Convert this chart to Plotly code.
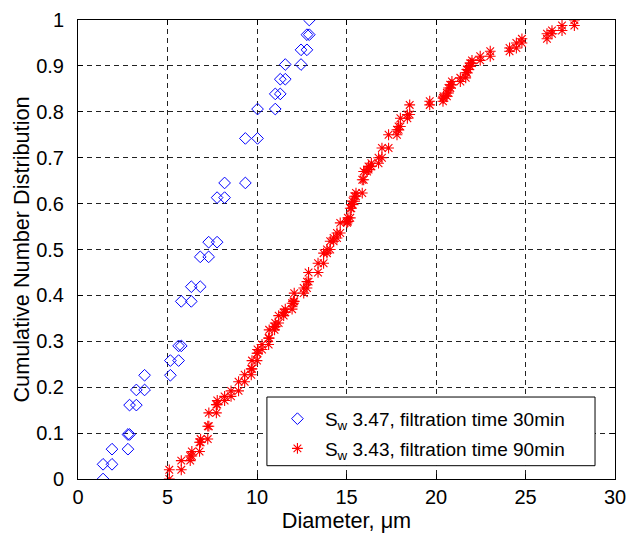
import plotly.graph_objects as go

# Sorted particle diameters (um) and the cumulative number fraction before/after each one
blue_diam = [1.40, 1.90, 2.79, 2.88, 3.26, 3.72, 5.16, 5.62, 5.77, 6.33, 6.83,
             7.30, 7.77, 8.19, 9.35, 10.03, 11.02, 11.30, 11.58, 12.46, 12.79, 12.92]
blue_cum = [0.0, 0.032, 0.065, 0.097, 0.161, 0.194, 0.226, 0.258, 0.290, 0.387, 0.419,
            0.484, 0.516, 0.613, 0.645, 0.742, 0.806, 0.839, 0.871, 0.903, 0.935, 0.968, 1.0]

red_diam = [5.10, 5.77, 6.27, 6.36, 6.79, 6.85, 7.25, 7.31, 7.73, 7.78,
            8.19, 8.55, 8.97, 9.31, 9.68, 9.72, 10.00, 10.03, 10.28, 10.65,
            10.68, 10.98, 11.02, 11.21, 11.49, 11.58, 11.96, 12.04, 12.08, 12.61,
            12.79, 12.88, 13.41, 13.72, 13.91, 14.09, 14.28, 14.47, 14.65, 15.03,
            15.08, 15.21, 15.27, 15.34, 15.45, 15.53, 15.88, 15.96, 16.15, 16.23,
            16.39, 16.79, 16.98, 17.35, 17.82, 17.91, 18.01, 18.40, 18.53, 19.65,
            20.39, 20.42, 20.61, 20.70, 20.80, 20.89, 21.36, 21.66, 21.73, 21.82,
            21.92, 22.01, 22.47, 23.03, 24.11, 24.49, 24.80, 26.20, 26.48, 27.04,
            27.73]
red_cum = [0.0, 0.020, 0.040, 0.050, 0.060, 0.080, 0.087, 0.115, 0.144, 0.162, 0.171,
           0.180, 0.192, 0.212, 0.227, 0.240, 0.258, 0.274, 0.282, 0.293, 0.307,
           0.325, 0.332, 0.340, 0.356, 0.363, 0.370, 0.383, 0.387, 0.405, 0.416,
           0.430, 0.450, 0.470, 0.492, 0.500, 0.518, 0.525, 0.536, 0.558, 0.561,
           0.569, 0.590, 0.598, 0.605, 0.616, 0.623, 0.652, 0.670, 0.674, 0.681,
           0.688, 0.700, 0.721, 0.750, 0.761, 0.768, 0.786, 0.794, 0.815, 0.823,
           0.830, 0.834, 0.841, 0.852, 0.859, 0.866, 0.874, 0.885, 0.892, 0.899,
           0.906, 0.912, 0.921, 0.932, 0.939, 0.950, 0.959, 0.970, 0.977, 0.988,
           1.000]

x_ticks = [0, 5, 10, 15, 20, 25, 30]
y_ticks = [0, 0.1, 0.2, 0.3, 0.4, 0.5, 0.6, 0.7, 0.8, 0.9, 1]
y_tick_text = ["0", "0.1", "0.2", "0.3", "0.4", "0.5", "0.6", "0.7", "0.8", "0.9", "1"]

label_blue = "S<sub>w</sub> 3.47, filtration time 30min"
label_red = "S<sub>w</sub> 3.43, filtration time 90min"


def stair_points(diam, cum):
    """Each diameter is marked at the cumulative level before and after it."""
    xs, ys = [], []
    for i, d in enumerate(diam):
        xs += [d, d]
        ys += [cum[i], cum[i + 1]]
    return xs, ys


bx, by = stair_points(blue_diam, blue_cum)
rx, ry = stair_points(red_diam, red_cum)

FONT = "Liberation Sans, Arial, sans-serif"

fig = go.Figure()
fig.add_trace(go.Scatter(
    x=bx, y=by, mode="markers", name=label_blue, legendgroup="a",
    marker=dict(symbol="diamond-open", size=9, color="#0000ff",
                line=dict(width=1, color="#0000ff")),
))
fig.add_trace(go.Scatter(
    x=rx, y=ry, mode="markers", name=label_red, legendgroup="b",
    marker=dict(symbol="asterisk-open", size=9, color="#ff0000",
                line=dict(width=1.1, color="#ff0000")),
))

axis_common = dict(
    showline=True, linecolor="black", linewidth=1, mirror="ticks",
    ticks="inside", ticklen=5, tickcolor="black", tickwidth=1,
    showgrid=True, gridcolor="#222222", gridwidth=1, griddash="5px,4px",
    zeroline=False, automargin=False,
    tickfont=dict(family=FONT, size=20, color="black"),
)

fig.update_xaxes(
    range=[0, 30], tickvals=x_ticks, ticklabelstandoff=0,
    title=dict(text="Diameter, μm", font=dict(family=FONT, size=21.7, color="black"),
               standoff=4),
    **axis_common,
)
fig.update_yaxes(
    range=[0, 1], tickvals=y_ticks, ticktext=y_tick_text, ticklabelstandoff=9,
    title=dict(text="Cumulative Number Distribution",
               font=dict(family=FONT, size=21.7, color="black"), standoff=0),
    **axis_common,
)

# Opaque framed box behind the legend entries
fig.add_shape(
    type="rect", xref="paper", yref="paper",
    x0=0.3518, x1=0.9628, y0=0.029, y1=0.1786,
    line=dict(color="black", width=1), fillcolor="white", layer="above",
)

fig.update_layout(
    width=630, height=536,
    margin=dict(l=78, r=15, t=20, b=57),
    paper_bgcolor="white", plot_bgcolor="white",
    font=dict(family=FONT, color="black"),
    showlegend=True,
    legend=dict(
        x=0.3574, y=0.1725, xanchor="left", yanchor="top",
        bgcolor="rgba(0,0,0,0)", borderwidth=0,
        font=dict(family=FONT, size=19, color="black"),
        itemwidth=45, tracegroupgap=2,
    ),
)

fig.write_html("out.html")
